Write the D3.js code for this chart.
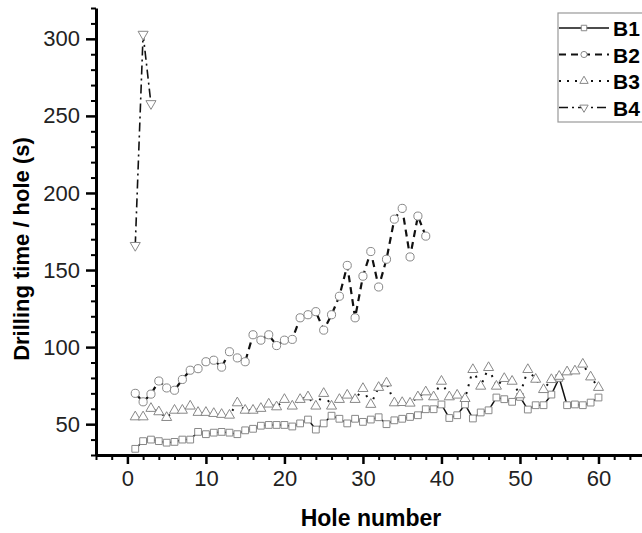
<!DOCTYPE html>
<html>
<head>
<meta charset="utf-8">
<script src="https://cdn.jsdelivr.net/npm/d3@7/dist/d3.min.js"></script>
<style>
  body { margin: 0; background: #fff; }
  svg { display: block; font-family: "Liberation Sans", Arial, sans-serif; }
  .axis path, .axis line { stroke: #000; }
  .axis text { font-size: 22px; fill: #222; }
</style>
</head>
<body>
<svg id="chart"></svg>
<script>
// hole numbers are 1..n for each series
const seriesNames = ["B1", "B2", "B3", "B4"];

const b1 = [34, 39, 40, 39, 38, 38.5, 40, 40, 45, 43.5,
    44.5, 45, 44.5, 43.5, 46, 47, 49, 49.5, 49.5, 49.5,
    48.5, 50.5, 53, 46.5, 50.5, 55.5, 53.5, 50.5, 53.5, 51.5,
    53, 54.5, 50, 52.5, 53.5, 54.7, 55.8, 59.7, 59.7, 62.8,
    54, 55.8, 62.8, 53.7, 57.6, 59, 67.3, 66.2, 64.5, 67.7,
    59.5, 62.3, 62.3, 69.2, 80, 62.3, 62.8, 62.3, 64, 67.3];

const b2 = [70, 64.5, 69.5, 78, 73.5, 72, 79, 85, 86, 90.5,
    91.5, 87, 97, 93, 90.5, 108, 104.5, 108, 101, 104.5,
    105, 119, 121, 123, 111, 121, 133, 153, 119, 146,
    162, 139, 157, 183, 190, 158.5, 185, 172];

const b3 = [54.7, 54.7, 60.2, 58, 54.3, 59, 59, 61.7, 57.6, 57.6,
    56.9, 56.3, 55.8, 63.8, 59, 59, 60.2, 63, 61.2, 66,
    61.7, 66, 67.7, 61.7, 69.9, 61.7, 66, 68.8, 66, 73.1,
    62.8, 73.8, 76.7, 63.8, 64, 63.6, 67.7, 70.9, 67.7, 77.8,
    67.7, 68.8, 66.6, 85.4, 74.6, 86.7, 74.6, 79.6, 77.8, 69,
    85.4, 79.1, 72.4, 78.9, 81, 83.9, 84.5, 88.9, 80.6, 73.8];

const b4 = [166, 303, 258];

const xMajorTicks = [0, 10, 20, 30, 40, 50, 60];
const yMajorTicks = [50, 100, 150, 200, 250, 300];

const width = 642, height = 533;
const svg = d3.select("#chart").attr("width", width).attr("height", height);

const x = d3.scaleLinear().domain([-4, 70]).range([96, 677]);
const y = d3.scaleLinear().domain([30, 320]).range([455, 8]);

// minor ticks first, then the labelled majors
const xMinor = d3.range(-4, 71, 2).filter(v => v % 10 !== 0);
const yMinor = d3.range(30, 321, 10).filter(v => v % 50 !== 0);

svg.append("g")
    .attr("class", "axis")
    .attr("transform", "translate(0,455)")
    .call(d3.axisBottom(x).tickValues(xMinor).tickSize(5).tickFormat(""))
    .call(g => g.select(".domain").remove())
    .selectAll("line").attr("stroke-width", 2);

svg.append("g")
    .attr("class", "axis")
    .attr("transform", "translate(0,455)")
    .call(d3.axisBottom(x).tickValues(xMajorTicks).tickSize(9).tickPadding(6).tickSizeOuter(0))
    .call(g => g.select(".domain").attr("stroke-width", 3))
    .call(g => g.selectAll("line").attr("stroke-width", 2.5));

svg.append("g")
    .attr("class", "axis")
    .attr("transform", "translate(96,0)")
    .call(d3.axisLeft(y).tickValues(yMinor).tickSize(5).tickFormat(""))
    .call(g => g.select(".domain").remove())
    .selectAll("line").attr("stroke-width", 2);

svg.append("g")
    .attr("class", "axis")
    .attr("transform", "translate(96,0)")
    .call(d3.axisLeft(y).tickValues(yMajorTicks).tickSize(10).tickPadding(6).tickSizeOuter(0))
    .call(g => g.select(".domain").attr("stroke-width", 3))
    .call(g => g.selectAll("line").attr("stroke-width", 2.5));

// axis titles
svg.append("text")
    .attr("x", 371)
    .attr("y", 526)
    .attr("text-anchor", "middle")
    .style("font-size", "23px")
    .style("font-weight", "bold")
    .text("Hole number");

svg.append("text")
    .attr("transform", "translate(29,249) rotate(-90)")
    .attr("text-anchor", "middle")
    .style("font-size", "22px")
    .style("font-weight", "bold")
    .text("Drilling time / hole (s)");

const styles = [
    { data: b1, dash: null, sw: 1.5, sym: d3.symbolSquare, size: 46, rot: 0 },
    { data: b2, dash: "7,5", sw: 2.2, sym: d3.symbolCircle, size: 52, rot: 0 },
    { data: b3, dash: "2,6", sw: 2, sym: d3.symbolTriangle, size: 44, rot: 0 },
    { data: b4, dash: "9,4,2,4", sw: 1.6, sym: d3.symbolTriangle, size: 44, rot: 180 }
];

const line = d3.line()
    .x((d, i) => x(i + 1))
    .y(d => y(d));

styles.forEach(s => {
    svg.append("path")
        .datum(s.data)
        .attr("fill", "none")
        .attr("stroke", "#111")
        .attr("stroke-width", s.sw)
        .attr("stroke-dasharray", s.dash)
        .attr("d", line);
});

styles.forEach(s => {
    svg.append("g")
        .selectAll("path")
        .data(s.data)
        .enter()
        .append("path")
        .attr("transform", (d, i) => "translate(" + x(i + 1) + "," + y(d) + ") rotate(" + s.rot + ")")
        .attr("d", d3.symbol().type(s.sym).size(s.size))
        .attr("fill", "#fff")
        .attr("stroke", "#888")
        .attr("stroke-width", 1);
});

// legend
const legend = svg.append("g");
legend.append("rect")
    .attr("x", 558).attr("y", 13)
    .attr("width", 120).attr("height", 109)
    .attr("fill", "#fff")
    .attr("stroke", "#999")
    .attr("stroke-width", 1.2);

seriesNames.forEach((name, i) => {
    const s = styles[i];
    const ly = 28 + i * 26.5;
    legend.append("line")
        .attr("x1", 559).attr("x2", 609)
        .attr("y1", ly).attr("y2", ly)
        .attr("stroke", "#111")
        .attr("stroke-width", s.sw)
        .attr("stroke-dasharray", s.dash);
    legend.append("path")
        .attr("transform", "translate(584," + ly + ") rotate(" + s.rot + ")")
        .attr("d", d3.symbol().type(s.sym).size(30))
        .attr("fill", "#fff")
        .attr("stroke", "#888");
    legend.append("text")
        .attr("x", 613)
        .attr("y", ly + 8)
        .style("font-size", "21px")
        .style("font-weight", "bold")
        .text(name);
});
</script>
</body>
</html>
